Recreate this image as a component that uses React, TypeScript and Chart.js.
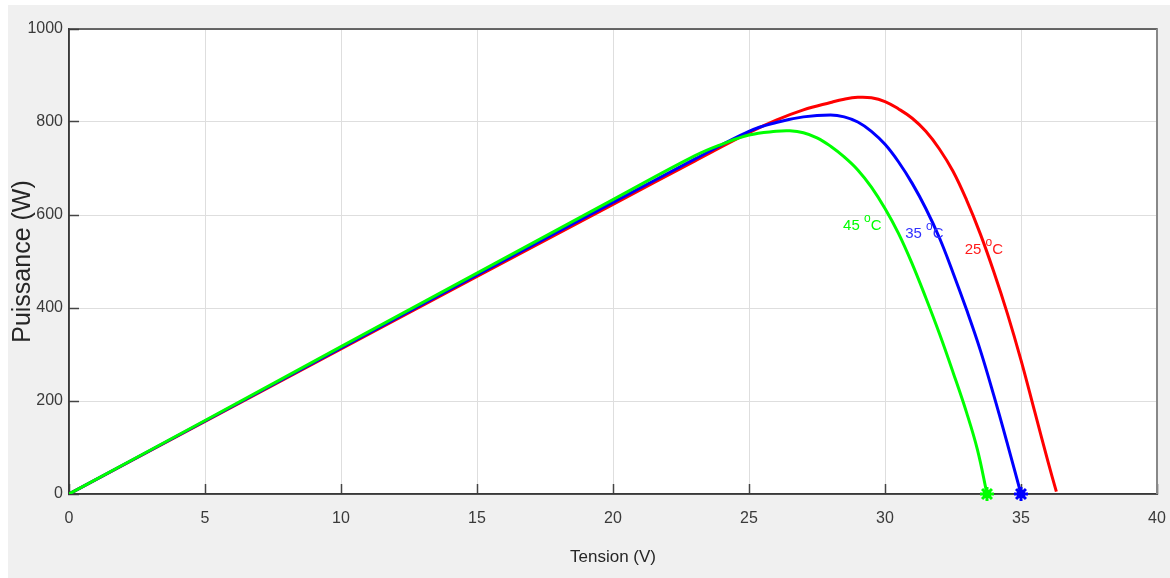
import React, { useEffect, useRef } from "react";
import { Chart, registerables } from "chart.js";

Chart.register(...registerables);

// Tension (V) / Puissance (W) for each temperature
const voltage25 = [0, 5, 10, 15, 20, 23, 25, 26, 27, 28, 28.5, 29, 29.5, 30, 30.5, 31, 31.5, 32, 32.5, 33, 33.5, 34, 34.5, 35, 35.5, 36, 36.3];
const power25 = [0, 156, 312, 468, 623, 716, 777, 804, 826, 842, 849, 853, 852, 844, 828, 808, 780, 742, 694, 632, 560, 478, 388, 288, 178, 68, 5];

const voltage35 = [0, 5, 10, 15, 20, 23, 25, 26, 27, 28, 28.5, 29, 29.5, 30, 30.5, 31, 31.5, 32, 32.5, 33, 33.5, 34, 34.5, 35];
const power35 = [0, 157, 314, 471, 627, 720, 780, 799, 811, 815, 811, 800, 780, 752, 714, 668, 614, 551, 476, 396, 310, 212, 108, 0];

const voltage45 = [0, 5, 10, 15, 20, 23, 24, 25, 26, 26.5, 27, 27.5, 28, 28.5, 29, 29.5, 30, 30.5, 31, 31.5, 32, 32.5, 33, 33.4, 33.75];
const power45 = [0, 158, 317, 475, 633, 727, 752, 772, 780, 781, 777, 766, 748, 725, 697, 660, 614, 560, 495, 422, 345, 262, 175, 95, 0];

// end-point markers (open-circuit voltage)
const markerVoltage45 = [33.75];
const markerPower45 = [0];
const markerVoltage35 = [35];
const markerPower35 = [0];

// curve labels
const labelTexts = ["45", "35", "25"];
const labelVoltage = [28.46, 30.74, 32.93];
const labelPower = [568, 551, 516];
const labelColors = ["#00ff00", "#3030ff", "#ff1a1a"];

const xTicksMin = 0;
const xTicksMax = 40;
const xStep = 5;
const yTicksMin = 0;
const yTicksMax = 1000;
const yStep = 200;

const toPoints = (xs: number[], ys: number[]) => xs.map((x, i) => ({ x, y: ys[i] }));

const FONT = "'Liberation Sans', Arial, sans-serif";

const bgPlugin = {
  id: "plotBg",
  beforeDraw(chart: any) {
    const { ctx, chartArea } = chart;
    ctx.save();
    ctx.fillStyle = "#ffffff";
    ctx.fillRect(chartArea.left, chartArea.top, chartArea.right - chartArea.left, chartArea.bottom - chartArea.top);
    ctx.restore();
  },
  beforeDatasetsDraw(chart: any) {
    const { ctx, chartArea } = chart;
    ctx.save();
    ctx.strokeStyle = "#3a3a3a";
    ctx.lineWidth = 1.5;
    ctx.strokeRect(chartArea.left, chartArea.top, chartArea.right - chartArea.left, chartArea.bottom - chartArea.top);
    ctx.strokeStyle = "#888888";
    ctx.lineWidth = 2;
    ctx.beginPath();
    ctx.moveTo(chartArea.right, chartArea.top);
    ctx.lineTo(chartArea.right, chartArea.bottom);
    ctx.stroke();
    ctx.restore();
  },
};

const labelPlugin = {
  id: "curveLabels",
  afterDatasetsDraw(chart: any) {
    const { ctx, scales } = chart;
    ctx.save();
    ctx.textBaseline = "alphabetic";
    ctx.textAlign = "left";
    for (let i = 0; i < labelTexts.length; i++) {
      const x = scales.x.getPixelForValue(labelVoltage[i]);
      const y = scales.y.getPixelForValue(labelPower[i]);
      ctx.fillStyle = labelColors[i];
      ctx.font = `15px ${FONT}`;
      const main = labelTexts[i] + " ";
      ctx.fillText(main, x, y);
      let w = ctx.measureText(main).width;
      ctx.font = `12px ${FONT}`;
      ctx.fillText("o", x + w, y - 8);
      w += ctx.measureText("o").width;
      ctx.font = `15px ${FONT}`;
      ctx.fillText("C", x + w, y);
    }
    ctx.restore();
  },
};

export default function App() {
  const canvasRef = useRef<HTMLCanvasElement | null>(null);

  useEffect(() => {
    if (!canvasRef.current) return;
    const curve = (label: string, xs: number[], ys: number[], color: string, order: number) => ({
      label,
      data: toPoints(xs, ys),
      borderColor: color,
      borderWidth: 3,
      pointRadius: 0,
      tension: 0.4,
      order,
    });
    const marker = (label: string, xs: number[], ys: number[], color: string, style: any, radius: number, bw: number) => ({
      label,
      data: toPoints(xs, ys),
      showLine: false,
      clip: false as any,
      pointStyle: style,
      pointRadius: radius,
      pointBorderWidth: bw,
      borderColor: color,
      backgroundColor: color,
      order: 0,
    });
    const chart = new Chart(canvasRef.current, {
      type: "line",
      data: {
        datasets: [
          marker("45 °C marker", markerVoltage45, markerPower45, "#00ff00", "star", 7, 3),
          marker("45 °C marker core", markerVoltage45, markerPower45, "#00ff00", "circle", 4, 1),
          marker("35 °C marker", markerVoltage35, markerPower35, "#0000ff", "star", 7, 3),
          marker("35 °C marker core", markerVoltage35, markerPower35, "#0000ff", "circle", 4, 1),
          curve("45 °C", voltage45, power45, "#00ff00", 1),
          curve("35 °C", voltage35, power35, "#0000ff", 2),
          curve("25 °C", voltage25, power25, "#ff0000", 3),
        ],
      },
      options: {
        animation: false,
        responsive: true,
        maintainAspectRatio: false,
        layout: { padding: { left: 0, right: 13, top: 24, bottom: 0 } },
        plugins: {
          legend: { display: false },
          tooltip: { enabled: false },
        },
        scales: {
          x: {
            type: "linear",
            min: xTicksMin,
            max: xTicksMax,
            ticks: {
              stepSize: xStep,
              color: "#3a3a3a",
              padding: 25,
              font: { family: FONT, size: 16 },
              callback: (v: any) => String(v),
            },
            grid: {
              color: "#dedede",
              lineWidth: 1,
              drawTicks: true,
              tickLength: -10,
              tickColor: "#444444",
              tickWidth: 1.5,
            },
            border: { display: true, color: "#3a3a3a", width: 1.5 },
            title: {
              display: true,
              text: "Tension (V)",
              color: "#262626",
              font: { family: FONT, size: 17 },
              padding: { top: 0, bottom: 10 },
            },
            afterFit: (scale: any) => {
              scale.height = 84;
              scale.paddingLeft = 0;
              scale.paddingRight = 0;
            },
          },
          y: {
            type: "linear",
            min: yTicksMin,
            max: yTicksMax,
            ticks: {
              stepSize: yStep,
              color: "#3a3a3a",
              padding: 16,
              font: { family: FONT, size: 16 },
              callback: (v: any) => String(v),
            },
            grid: {
              color: "#dedede",
              lineWidth: 1,
              drawTicks: true,
              tickLength: -10,
              tickColor: "#444444",
              tickWidth: 1.5,
            },
            border: { display: true, color: "#3a3a3a", width: 1.5 },
            title: {
              display: true,
              text: "Puissance (W)",
              color: "#262626",
              font: { family: FONT, size: 25 },
              padding: { top: 0, bottom: 0 },
            },
            afterFit: (scale: any) => {
              scale.width = 61;
              scale.paddingTop = 0;
              scale.paddingBottom = 0;
            },
          },
        },
      },
      plugins: [bgPlugin, labelPlugin],
    });
    return () => chart.destroy();
  }, []);

  return (
    <div
      style={{
        position: "absolute",
        left: 8,
        top: 5,
        width: 1162,
        height: 573,
        background: "#f0f0f0",
      }}
    >
      <canvas ref={canvasRef} />
    </div>
  );
}
